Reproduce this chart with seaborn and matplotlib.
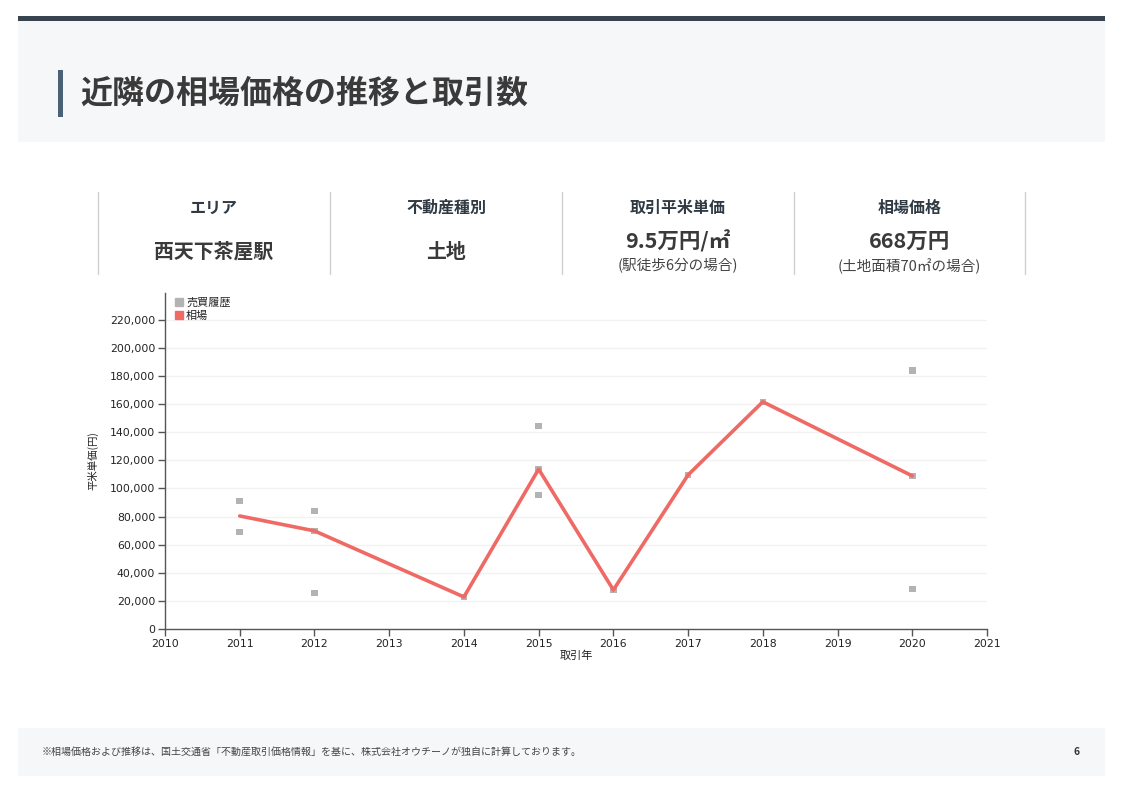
import matplotlib
matplotlib.use("Agg")
import matplotlib.pyplot as plt
from matplotlib.patches import Rectangle
from matplotlib.lines import Line2D
import seaborn as sns
import pandas as pd

# ---- data ----
sale_years = [2011, 2011, 2012, 2012, 2012, 2014, 2015, 2015, 2015, 2016, 2017, 2018, 2020, 2020, 2020]
sale_prices = [91000, 69000, 84000, 69800, 25600, 22800, 144500, 113700, 95400, 27800, 109600, 161600, 183700, 108900, 28500]
trend_years = [2011, 2012, 2014, 2015, 2016, 2017, 2018, 2020]
trend_prices = [80400, 69800, 22800, 113700, 27800, 109600, 161600, 108900]
x_ticks = list(range(2010, 2022))
y_ticks = list(range(0, 220001, 20000))

info_labels = ["エリア", "不動産種別", "取引平米単価", "相場価格"]
info_values = ["西天下茶屋駅", "土地", "9.5万円/㎡", "668万円"]
info_notes = ["", "", "(駅徒歩6分の場合)", "(土地面積70㎡の場合)"]

title = "近隣の相場価格の推移と取引数"
footnote = "※相場価格および推移は、国土交通省「不動産取引価格情報」を基に、株式会社オウチーノが独自に計算しております。"
page_no = "6"

sns.set_theme(style="white")
plt.rcParams['font.family'] = ['Noto Sans CJK JP', 'DejaVu Sans']

W, H = 1123, 793
fig = plt.figure(figsize=(W / 100, H / 100), dpi=100)
fig.patch.set_facecolor("white")

def px(x, y):
    return x / W, 1 - y / H

# header
fig.patches.append(Rectangle(px(18, 142), (1105 - 18) / W, (142 - 21) / H, transform=fig.transFigure,
                             facecolor="#f6f7f9", edgecolor="none", zorder=0))
fig.patches.append(Rectangle(px(18, 21), (1105 - 18) / W, 5 / H, transform=fig.transFigure,
                             facecolor="#37444f", edgecolor="none", zorder=1))
fig.patches.append(Rectangle(px(58, 117), 5 / W, 47 / H, transform=fig.transFigure,
                             facecolor="#4b6175", edgecolor="none", zorder=1))
fig.text(*px(80, 94), title, fontsize=23, fontweight="bold", color="#3a3a3a", va="center", ha="left")

# info row
seps = [98, 330, 562, 794, 1025]
for x in seps:
    fig.add_artist(Line2D([x / W, x / W], [1 - 192 / H, 1 - 274 / H], transform=fig.transFigure,
                          color="#d0d0d0", lw=1))
for i in range(4):
    cx = (seps[i] + seps[i + 1]) / 2
    fig.text(*px(cx, 208), info_labels[i], fontsize=11.5, fontweight="bold", color="#2f3a44", ha="center", va="center")
    if info_notes[i]:
        fig.text(*px(cx, 241), info_values[i], fontsize=15.5, fontweight="bold",
                 color="#3a3a3a", ha="center", va="center")
        fig.text(*px(cx, 266), info_notes[i], fontsize=10.5, color="#444444", ha="center", va="center")
    else:
        fig.text(*px(cx, 251), info_values[i], fontsize=14.3, fontweight="bold",
                 color="#3a3a3a", ha="center", va="center")

# chart
ax = fig.add_axes([165 / W, 1 - 629 / H, (987 - 165) / W, (629 - 293) / H])
ax.set_facecolor("white")
df_s = pd.DataFrame({"year": sale_years, "price": sale_prices})
df_t = pd.DataFrame({"year": trend_years, "price": trend_prices})
sns.scatterplot(data=df_s, x="year", y="price", marker="s", s=22, color="#b3b3b3", edgecolor="none", ax=ax, zorder=2)
sns.lineplot(data=df_t, x="year", y="price", color="#ef6a64", lw=2.6, ax=ax, zorder=3)

ax.set_xlim(2010, 2021)
ax.set_ylim(0, 239000)
ax.set_xticks(x_ticks)
ax.set_xticklabels([str(v) for v in x_ticks], fontsize=7.8, color="#222222", family="DejaVu Sans")
ax.set_yticks(y_ticks)
ax.set_yticklabels([f"{v:,}" for v in y_ticks], fontsize=7.8, color="#222222", family="DejaVu Sans")
for v in y_ticks[1:]:
    ax.axhline(v, color="#f2f2f2", lw=1, zorder=0)
for s in ["top", "right"]:
    ax.spines[s].set_visible(False)
for s in ["left", "bottom"]:
    ax.spines[s].set_color("#555555")
    ax.spines[s].set_linewidth(1)
ax.tick_params(axis="both", which="both", length=5, width=1, color="#555555", direction="out",
               bottom=True, left=True, pad=2)
ax.set_xlabel("取引年", fontsize=8, color="#222222", labelpad=1)
ax.set_ylabel("平米単価(円)", fontsize=7.5, color="#222222", labelpad=8)

handles = [Line2D([], [], marker="s", ls="none", color="#b3b3b3", markersize=6),
           Line2D([], [], marker="s", ls="none", color="#ef6a64", markersize=6)]
ax.legend(handles, ["売買履歴", "相場"], loc="upper left", bbox_to_anchor=(0.008, 1.0), frameon=False,
          fontsize=8, handlelength=0.6, handletextpad=0.3, labelspacing=0.25, borderaxespad=0)

# footer
fig.patches.append(Rectangle(px(18, 776), (1105 - 18) / W, (776 - 728) / H, transform=fig.transFigure,
                             facecolor="#f6f7f9", edgecolor="none", zorder=0))
fig.text(*px(42, 752), footnote, fontsize=7.2, color="#444444", ha="left", va="center")
fig.text(*px(1080, 752), page_no, fontsize=7.5, fontweight="bold", color="#333333", ha="right", va="center")

fig.savefig("out.png", dpi=100, facecolor="white")
